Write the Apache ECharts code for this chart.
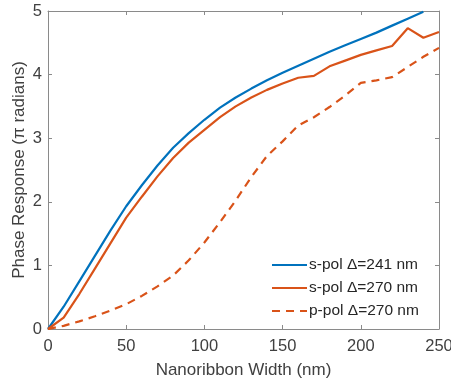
<!DOCTYPE html>
<html><head><meta charset="utf-8">
<script src="https://cdn.jsdelivr.net/npm/echarts@6/dist/echarts.min.js"></script>
<style>html,body{margin:0;padding:0;background:#fff}#c{width:451px;height:381px}</style>
</head><body><div id="c"></div>
<script>
const widths = [0,10,20,30,40,50,60,70,80,90,100,110,120,130,140,150,160,170,180,190,200,210,220,230,240,250];
const sPol241 = [0,0.35,0.75,1.15,1.55,1.93,2.26,2.57,2.85,3.08,3.29,3.48,3.64,3.78,3.91,4.03,4.14,4.25,4.36,4.46,4.56,4.66,4.77,4.88,4.99,null];
const sPol270 = [0,0.18,0.55,0.95,1.35,1.75,2.08,2.4,2.69,2.93,3.13,3.33,3.5,3.64,3.76,3.86,3.95,3.98,4.13,4.22,4.31,4.38,4.45,4.73,4.58,4.67];
const pPol270 = [0,0.05,0.12,0.2,0.29,0.39,0.52,0.67,0.84,1.08,1.36,1.68,2.02,2.39,2.72,2.95,3.2,3.33,3.49,3.67,3.87,3.91,3.96,4.12,4.28,4.42];
const seriesNames = ['s-pol \u0394=241 nm','s-pol \u0394=270 nm','p-pol \u0394=270 nm'];
const xTicks = [0,50,100,150,200,250];
const yTicks = [0,1,2,3,4,5];

const pairs = arr => widths.map((w,i)=> arr[i]==null ? null : [w,arr[i]]).filter(p=>p);
const blue = '#0072BD', orange = '#D95319';
const axisCol = '#8a8a8a', txt = '#404040';
const font = '"Liberation Sans", Arial, sans-serif';

const chart = echarts.init(document.getElementById('c'), null, {renderer:'canvas'});
const baseAxis = {
  type:'value', axisLine:{show:true,onZero:false,lineStyle:{color:axisCol,width:1}},
  axisTick:{show:true,inside:true,length:4,lineStyle:{color:axisCol}},
  splitLine:{show:false}
};
chart.setOption({
  animation:false,
  grid:{left:48,right:12,top:11,bottom:52,containLabel:false,outerBoundsMode:'none'},
  xAxis:[
    Object.assign({}, baseAxis, {min:0,max:250,interval:50,position:'bottom',
      axisLabel:{color:txt,fontSize:16.5,fontFamily:font,margin:9,showMaxLabel:true,formatter:v=>xTicks.includes(v)?String(v):''},
      name:'Nanoribbon Width (nm)',nameLocation:'middle',nameGap:33,nameMoveOverlap:false,
      nameTextStyle:{color:txt,fontSize:17,fontFamily:font}}),
    Object.assign({}, baseAxis, {min:0,max:250,interval:50,position:'top',axisLabel:{show:false}})
  ],
  yAxis:[
    Object.assign({}, baseAxis, {min:0,max:5,interval:1,position:'left',
      axisLabel:{color:txt,fontSize:16.5,fontFamily:font,margin:6,formatter:v=>yTicks.includes(v)?String(v):''},
      name:'Phase Response (\u03c0 radians)',nameLocation:'middle',nameGap:20,nameMoveOverlap:false,
      nameTextStyle:{color:txt,fontSize:17,fontFamily:font}}),
    Object.assign({}, baseAxis, {min:0,max:5,interval:1,position:'right',axisLabel:{show:false}})
  ],
  legend:{
    orient:'vertical',left:266,top:252,itemWidth:35,itemHeight:12,itemGap:7,
    itemStyle:{opacity:0},
    textStyle:{color:'#262626',fontSize:15.5,fontFamily:font,padding:[0,0,0,-3]},
    data:seriesNames
  },
  series:[
    {name:seriesNames[0],type:'line',data:pairs(sPol241),showSymbol:false,symbol:'none',
      lineStyle:{color:blue,width:2.2},itemStyle:{color:blue}},
    {name:seriesNames[1],type:'line',data:pairs(sPol270),showSymbol:false,symbol:'none',
      lineStyle:{color:orange,width:2.2},itemStyle:{color:orange}},
    {name:seriesNames[2],type:'line',data:pairs(pPol270),showSymbol:false,symbol:'none',
      lineStyle:{color:orange,width:2.2,type:[8,6]},itemStyle:{color:orange}}
  ]
});
</script></body></html>
